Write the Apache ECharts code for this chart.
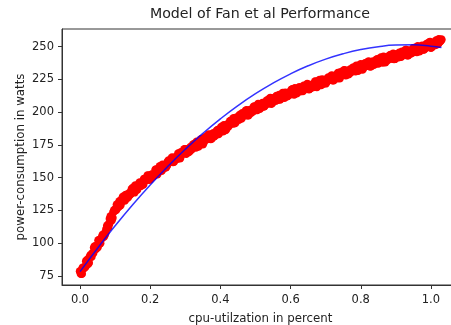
<!DOCTYPE html>
<html>
<head>
<meta charset="utf-8">
<title>Model of Fan et al Performance</title>
<script src="https://cdn.jsdelivr.net/npm/echarts@6/dist/echarts.min.js"></script>
<style>
  html, body { margin: 0; padding: 0; background: #fff; }
  #chart { width: 451px; height: 325px; }
</style>
</head>
<body>
<div id="chart"></div>
<script>
// Measured samples, first pass: CPU utilisation (fraction) and power draw (watts)
const cpuUtil = [
  0,0.005,0.01,0.015,0.02,0.025,0.03,0.035,0.04,0.045,
  0.05,0.055,0.06,0.065,0.07,0.075,0.08,0.085,0.09,0.095,
  0.1,0.105,0.11,0.115,0.12,0.125,0.13,0.135,0.14,0.145,
  0.15,0.155,0.16,0.165,0.17,0.175,0.18,0.185,0.19,0.195,
  0.2,0.205,0.21,0.215,0.22,0.225,0.23,0.235,0.24,0.245,
  0.25,0.255,0.26,0.265,0.27,0.275,0.28,0.285,0.29,0.295,
  0.3,0.305,0.31,0.315,0.32,0.325,0.33,0.335,0.34,0.345,
  0.35,0.355,0.36,0.365,0.37,0.375,0.38,0.385,0.39,0.395,
  0.4,0.405,0.41,0.415,0.42,0.425,0.43,0.435,0.44,0.445,
  0.45,0.455,0.46,0.465,0.47,0.475,0.48,0.485,0.49,0.495,
  0.5,0.505,0.51,0.515,0.52,0.525,0.53,0.535,0.54,0.545,
  0.55,0.555,0.56,0.565,0.57,0.575,0.58,0.585,0.59,0.595,
  0.6,0.605,0.61,0.615,0.62,0.625,0.63,0.635,0.64,0.645,
  0.65,0.655,0.66,0.665,0.67,0.675,0.68,0.685,0.69,0.695,
  0.7,0.705,0.71,0.715,0.72,0.725,0.73,0.735,0.74,0.745,
  0.75,0.755,0.76,0.765,0.77,0.775,0.78,0.785,0.79,0.795,
  0.8,0.805,0.81,0.815,0.82,0.825,0.83,0.835,0.84,0.845,
  0.85,0.855,0.86,0.865,0.87,0.875,0.88,0.885,0.89,0.895,
  0.9,0.905,0.91,0.915,0.92,0.925,0.93,0.935,0.94,0.945,
  0.95,0.955,0.96,0.965,0.97,0.975,0.98,0.985,0.99,0.995,
  1,1.005,1.01,1.015,1.02,1.025,1.03
];
const powerWatts = [
  78.5,76.7,80.9,82.1,87.1,85.1,90.9,92.2,96.8,95.6,
  97,102.1,103.2,106.5,106.2,110.9,112.1,118.6,117.6,123.9,
  125.7,129.6,128.1,129,133.6,134.2,136.8,134.7,138.2,138.1,
  142.1,138.8,143.2,143.2,146.4,144.3,144.8,149,149.2,151.5,
  149.2,152.4,152.1,156.1,152.6,156.9,156.7,159.8,157.6,158,
  162.1,162.2,164.3,161.9,165,164.6,168.5,164.9,169.1,168.8,
  171.8,169.4,169.6,173.5,173.4,175.5,173,176,175.5,179.3,
  175.6,179.7,179.3,182.2,179.8,180,183.9,183.8,185.9,183.4,
  186.4,186.1,190,186.5,190.7,190.5,193.5,191.3,191.6,195.7,
  195.7,197.8,195.2,198.2,197.6,201.4,197.6,201.7,201.2,204.1,
  201.6,201.7,205.4,205.2,207.1,204.5,207.3,206.7,210.3,206.5,
  210.4,209.7,212.4,209.7,209.7,213.3,213,214.8,212.1,214.8,
  214.1,217.5,213.5,217.2,216.5,219,216.3,216.1,219.7,219.2,
  221,218.1,220.8,219.9,223.4,219.3,223.1,222.3,224.9,222.1,
  222,225.6,225.3,227.1,224.4,227.1,226.4,229.9,226,229.8,
  229.2,231.8,229.1,229,232.6,232.2,234,231.2,233.9,233.1,
  236.6,232.5,236.3,235.5,238.1,235.3,235.2,238.7,238.3,240,
  237.2,239.8,238.9,242.3,238.2,241.9,241.1,243.6,240.8,240.6,
  244.1,243.6,245.3,242.4,245,244.1,247.5,243.4,247.1,246.3,
  248.8,246.1,245.9,249.5,249,250.8,247.9,250.6,249.7,253.2,
  249.1,252.9,252.2,254.8,252.1,253.8,255.5
];

// Measured samples, second pass (interleaved utilisation levels)
const cpuUtil2 = [
  0.0025,0.0075,0.0125,0.0175,0.0225,0.0275,0.0325,0.0375,0.0425,0.0475,
  0.0525,0.0575,0.0625,0.0675,0.0725,0.0775,0.0825,0.0875,0.0925,0.0975,
  0.1025,0.1075,0.1125,0.1175,0.1225,0.1275,0.1325,0.1375,0.1425,0.1475,
  0.1525,0.1575,0.1625,0.1675,0.1725,0.1775,0.1825,0.1875,0.1925,0.1975,
  0.2025,0.2075,0.2125,0.2175,0.2225,0.2275,0.2325,0.2375,0.2425,0.2475,
  0.2525,0.2575,0.2625,0.2675,0.2725,0.2775,0.2825,0.2875,0.2925,0.2975,
  0.3025,0.3075,0.3125,0.3175,0.3225,0.3275,0.3325,0.3375,0.3425,0.3475,
  0.3525,0.3575,0.3625,0.3675,0.3725,0.3775,0.3825,0.3875,0.3925,0.3975,
  0.4025,0.4075,0.4125,0.4175,0.4225,0.4275,0.4325,0.4375,0.4425,0.4475,
  0.4525,0.4575,0.4625,0.4675,0.4725,0.4775,0.4825,0.4875,0.4925,0.4975,
  0.5025,0.5075,0.5125,0.5175,0.5225,0.5275,0.5325,0.5375,0.5425,0.5475,
  0.5525,0.5575,0.5625,0.5675,0.5725,0.5775,0.5825,0.5875,0.5925,0.5975,
  0.6025,0.6075,0.6125,0.6175,0.6225,0.6275,0.6325,0.6375,0.6425,0.6475,
  0.6525,0.6575,0.6625,0.6675,0.6725,0.6775,0.6825,0.6875,0.6925,0.6975,
  0.7025,0.7075,0.7125,0.7175,0.7225,0.7275,0.7325,0.7375,0.7425,0.7475,
  0.7525,0.7575,0.7625,0.7675,0.7725,0.7775,0.7825,0.7875,0.7925,0.7975,
  0.8025,0.8075,0.8125,0.8175,0.8225,0.8275,0.8325,0.8375,0.8425,0.8475,
  0.8525,0.8575,0.8625,0.8675,0.8725,0.8775,0.8825,0.8875,0.8925,0.8975,
  0.9025,0.9075,0.9125,0.9175,0.9225,0.9275,0.9325,0.9375,0.9425,0.9475,
  0.9525,0.9575,0.9625,0.9675,0.9725,0.9775,0.9825,0.9875,0.9925,0.9975,
  1.0025,1.0075,1.0125,1.0175,1.0225,1.0275
];
const powerWatts2 = [
  76.6,81.2,81.4,86.2,84.2,89.4,89.7,92.6,97.7,97.6,
  102.2,99.9,104.6,104.9,108.1,113.5,114.4,120.5,119.4,125.1,
  125.3,127.5,132,131.4,135.5,132.6,136.5,135.6,137.2,141.2,
  140.2,144,140.8,144.7,143.6,145.1,149.1,148.1,151.7,148.4,
  152.1,150.9,152.3,156.2,155.1,158.7,155.4,159.1,157.9,159.3,
  163.2,162,165.5,162.1,165.7,164.4,165.7,169.5,168.3,171.8,
  168.3,171.8,170.4,171.6,175.3,174,177.4,173.9,177.4,176,
  177.2,180.9,179.6,183,179.5,183,181.6,182.8,186.5,185.2,
  188.7,185.4,189,187.8,189.1,193,191.8,195.4,192,195.7,
  194.3,195.5,199.1,197.8,201.1,197.6,201,199.6,200.7,204.4,
  203,206.2,202.6,205.9,204.4,205.4,209,207.5,210.8,207.1,
  210.4,208.7,209.7,213.1,211.6,214.7,211,214.2,212.6,213.5,
  216.9,215.3,218.3,214.5,217.6,215.9,216.7,220.1,218.4,221.5,
  217.6,220.8,219,219.9,223.2,221.6,224.6,220.8,223.9,222.2,
  223.1,226.5,225,228.1,224.4,227.6,226,226.9,230.4,228.8,
  232,228.2,231.4,229.7,230.6,234,232.4,235.5,231.7,234.9,
  233.1,234,237.3,235.7,238.7,234.9,238,236.3,237.1,240.5,
  238.8,241.8,237.9,241,239.2,240,243.3,241.6,244.6,240.7,
  243.8,242,242.8,246.1,244.4,247.4,243.5,246.6,244.8,245.6,
  249,247.3,250.4,246.5,249.7,247.9,248.8,252.1,250.5,253.5,
  249.7,252.9,251.2,252.1,255.6,254.5
];

// Fitted model curve (Fan et al)
const fitUtil = [0,0.05,0.1,0.15,0.2,0.25,0.3,0.35,0.4,0.45,0.5,
                 0.55,0.6,0.65,0.7,0.75,0.8,0.85,0.9,0.95,1,1.03];
const fitWatts = [78.3,96.2,113.3,129.4,144.5,158.6,171.7,183.8,194.9,205,214.1,
                  222.2,229.3,235.4,240.5,244.6,247.8,250,251.2,251.4,250.4,249.3];

const xTicks = [0, 0.2, 0.4, 0.6, 0.8, 1.0];
const yTicks = [75, 100, 125, 150, 175, 200, 225, 250];

const FONT = 'DejaVu Sans';
const INK = '#222';
const SPINE = '#333';

const scatterData = cpuUtil.map((x, i) => [x, powerWatts[i]])
  .concat(cpuUtil2.map((x, i) => [x, powerWatts2[i]]));
const fitData = fitUtil.map((x, i) => [x, fitWatts[i]]);

const chart = echarts.init(document.getElementById('chart'), null, { renderer: 'canvas' });

chart.setOption({
  animation: false,
  backgroundColor: '#fff',
  title: {
    text: 'Model of Fan et al Performance',
    left: 260,
    top: 7,
    textAlign: 'center',
    padding: 0,
    textStyle: { fontFamily: FONT, fontSize: 14.2, fontWeight: 'normal', color: INK }
  },
  grid: {
    left: 62,
    top: 29,
    right: -8,
    bottom: 40,
    show: true,
    borderColor: SPINE,
    borderWidth: 1,
    backgroundColor: 'transparent',
    containLabel: false,
    outerBoundsMode: 'none'
  },
  xAxis: {
    type: 'value',
    min: -0.0514,
    max: 1.08,
    name: 'cpu-utilzation in percent',
    nameLocation: 'middle',
    nameGap: 28,
    nameMoveOverlap: false,
    nameTextStyle: { fontFamily: FONT, fontSize: 11.8, color: INK },
    axisLine: { show: true, onZero: false, lineStyle: { color: SPINE, width: 1 } },
    axisTick: { show: true, length: 4, customValues: xTicks, lineStyle: { color: SPINE, width: 1 } },
    axisLabel: {
      customValues: xTicks,
      margin: 9,
      fontFamily: FONT, fontSize: 11.5, color: INK,
      formatter: v => v.toFixed(1)
    },
    splitLine: { show: false }
  },
  yAxis: {
    type: 'value',
    min: 68.1,
    max: 263.5,
    name: 'power-consumption in watts',
    nameLocation: 'middle',
    nameGap: 35,
    nameRotate: 90,
    nameMoveOverlap: false,
    nameTextStyle: { fontFamily: FONT, fontSize: 11.8, color: INK },
    axisLine: { show: true, onZero: false, lineStyle: { color: SPINE, width: 1 } },
    axisTick: { show: true, length: 4, customValues: yTicks, lineStyle: { color: SPINE, width: 1 } },
    axisLabel: {
      customValues: yTicks,
      margin: 8,
      fontFamily: FONT, fontSize: 11.5, color: INK
    },
    splitLine: { show: false }
  },
  series: [
    {
      name: 'measured',
      type: 'scatter',
      data: scatterData,
      symbol: 'circle',
      symbolSize: 8.5,
      itemStyle: { color: '#ff0000', opacity: 1 },
      z: 2,
      silent: true,
      large: false
    },
    {
      name: 'model',
      type: 'line',
      data: fitData,
      smooth: true,
      showSymbol: false,
      lineStyle: { color: '#0000ff', width: 1.5, opacity: 0.8 },
      z: 3,
      silent: true
    }
  ]
});
</script>
</body>
</html>
